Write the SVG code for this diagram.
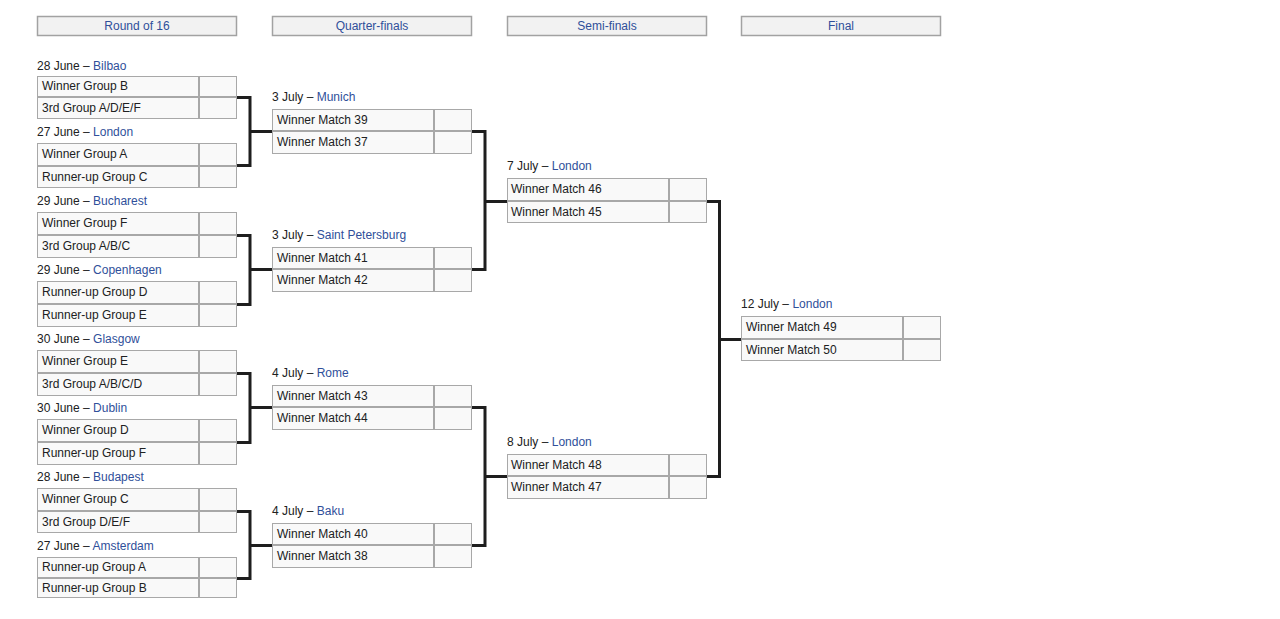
<svg xmlns="http://www.w3.org/2000/svg" width="1280" height="619" viewBox="0 0 1280 619">
<style>
text{font-family:"Liberation Sans",Arial,sans-serif;font-size:12px;fill:#202122}
.l{fill:#2f4f9a}
.hd rect{fill:#f2f2f2;stroke:#a2a2a2;stroke-width:1.5}
.hd text{fill:#2f4f9a;text-anchor:middle}
rect.c{fill:#f9f9f9;stroke:#a8a8a8;stroke-width:1}
.w path{fill:none;stroke:#1e1e1e;stroke-width:3}
</style>
<rect width="1280" height="619" fill="#ffffff"/>
<g id="headers" class="hd">
<g id="h-r16"><rect x="37.5" y="16.5" width="199" height="19"/><text x="137" y="29.5">Round of 16</text></g>
<g id="h-qf"><rect x="272.5" y="16.5" width="199" height="19"/><text x="372" y="29.5">Quarter-finals</text></g>
<g id="h-sf"><rect x="507.5" y="16.5" width="199" height="19"/><text x="607" y="29.5">Semi-finals</text></g>
<g id="h-f"><rect x="741.5" y="16.5" width="199" height="19"/><text x="841" y="29.5">Final</text></g>
</g>
<g id="connectors" class="w">
<path d="M237,97.5 H250 V165.5 H237 M250,131.5 H272"/>
<path d="M237,235.5 H250 V304.5 H237 M250,269.5 H272"/>
<path d="M237,373.5 H250 V442.5 H237 M250,407.5 H272"/>
<path d="M237,511.5 H250 V578.5 H237 M250,545.5 H272"/>
<path d="M472,131.5 H485 V269.5 H472 M485,201.5 H507"/>
<path d="M472,407.5 H485 V545.5 H472 M485,476.5 H507"/>
<path d="M707,201.5 H719.5 V476.5 H707 M719.5,339.5 H741"/>
</g>
<g id="m1">
<text x="37" y="69.5">28 June – <tspan class="l">Bilbao</tspan></text>
<rect class="c" x="37.5" y="76.5" width="161" height="20"/><rect class="c" x="199.5" y="76.5" width="37" height="20"/>
<rect class="c" x="37.5" y="97.5" width="161" height="21"/><rect class="c" x="199.5" y="97.5" width="37" height="21"/>
<text x="42" y="90">Winner Group B</text><text x="42" y="111.5">3rd Group A/D/E/F</text>
</g>
<g id="m2">
<text x="37" y="135.5">27 June – <tspan class="l">London</tspan></text>
<rect class="c" x="37.5" y="143.5" width="161" height="22"/><rect class="c" x="199.5" y="143.5" width="37" height="22"/>
<rect class="c" x="37.5" y="166.5" width="161" height="21"/><rect class="c" x="199.5" y="166.5" width="37" height="21"/>
<text x="42" y="158">Winner Group A</text><text x="42" y="180.5">Runner-up Group C</text>
</g>
<g id="m3">
<text x="37" y="204.5">29 June – <tspan class="l">Bucharest</tspan></text>
<rect class="c" x="37.5" y="212.5" width="161" height="22"/><rect class="c" x="199.5" y="212.5" width="37" height="22"/>
<rect class="c" x="37.5" y="235.5" width="161" height="22"/><rect class="c" x="199.5" y="235.5" width="37" height="22"/>
<text x="42" y="227">Winner Group F</text><text x="42" y="250">3rd Group A/B/C</text>
</g>
<g id="m4">
<text x="37" y="273.5">29 June – <tspan class="l">Copenhagen</tspan></text>
<rect class="c" x="37.5" y="281.5" width="161" height="22"/><rect class="c" x="199.5" y="281.5" width="37" height="22"/>
<rect class="c" x="37.5" y="304.5" width="161" height="22"/><rect class="c" x="199.5" y="304.5" width="37" height="22"/>
<text x="42" y="296">Runner-up Group D</text><text x="42" y="319">Runner-up Group E</text>
</g>
<g id="m5">
<text x="37" y="342.5">30 June – <tspan class="l">Glasgow</tspan></text>
<rect class="c" x="37.5" y="350.5" width="161" height="22"/><rect class="c" x="199.5" y="350.5" width="37" height="22"/>
<rect class="c" x="37.5" y="373.5" width="161" height="22"/><rect class="c" x="199.5" y="373.5" width="37" height="22"/>
<text x="42" y="365">Winner Group E</text><text x="42" y="388">3rd Group A/B/C/D</text>
</g>
<g id="m6">
<text x="37" y="411.5">30 June – <tspan class="l">Dublin</tspan></text>
<rect class="c" x="37.5" y="419.5" width="161" height="22"/><rect class="c" x="199.5" y="419.5" width="37" height="22"/>
<rect class="c" x="37.5" y="442.5" width="161" height="22"/><rect class="c" x="199.5" y="442.5" width="37" height="22"/>
<text x="42" y="434">Winner Group D</text><text x="42" y="457">Runner-up Group F</text>
</g>
<g id="m7">
<text x="37" y="480.5">28 June – <tspan class="l">Budapest</tspan></text>
<rect class="c" x="37.5" y="488.5" width="161" height="22"/><rect class="c" x="199.5" y="488.5" width="37" height="22"/>
<rect class="c" x="37.5" y="511.5" width="161" height="21"/><rect class="c" x="199.5" y="511.5" width="37" height="21"/>
<text x="42" y="503">Winner Group C</text><text x="42" y="525.5">3rd Group D/E/F</text>
</g>
<g id="m8">
<text x="37" y="549.5">27 June – <tspan class="l">Amsterdam</tspan></text>
<rect class="c" x="37.5" y="557.5" width="161" height="20"/><rect class="c" x="199.5" y="557.5" width="37" height="20"/>
<rect class="c" x="37.5" y="578.5" width="161" height="19"/><rect class="c" x="199.5" y="578.5" width="37" height="19"/>
<text x="42" y="571">Runner-up Group A</text><text x="42" y="591.5">Runner-up Group B</text>
</g>
<g id="q1">
<text x="272" y="100.5">3 July – <tspan class="l">Munich</tspan></text>
<rect class="c" x="272.5" y="109.5" width="161" height="21"/><rect class="c" x="434.5" y="109.5" width="37" height="21"/>
<rect class="c" x="272.5" y="131.5" width="161" height="22"/><rect class="c" x="434.5" y="131.5" width="37" height="22"/>
<text x="277" y="123.5">Winner Match 39</text><text x="277" y="146">Winner Match 37</text>
</g>
<g id="q2">
<text x="272" y="238.5">3 July – <tspan class="l">Saint Petersburg</tspan></text>
<rect class="c" x="272.5" y="247.5" width="161" height="21"/><rect class="c" x="434.5" y="247.5" width="37" height="21"/>
<rect class="c" x="272.5" y="269.5" width="161" height="22"/><rect class="c" x="434.5" y="269.5" width="37" height="22"/>
<text x="277" y="261.5">Winner Match 41</text><text x="277" y="284">Winner Match 42</text>
</g>
<g id="q3">
<text x="272" y="376.5">4 July – <tspan class="l">Rome</tspan></text>
<rect class="c" x="272.5" y="385.5" width="161" height="21"/><rect class="c" x="434.5" y="385.5" width="37" height="21"/>
<rect class="c" x="272.5" y="407.5" width="161" height="22"/><rect class="c" x="434.5" y="407.5" width="37" height="22"/>
<text x="277" y="399.5">Winner Match 43</text><text x="277" y="422">Winner Match 44</text>
</g>
<g id="q4">
<text x="272" y="514.5">4 July – <tspan class="l">Baku</tspan></text>
<rect class="c" x="272.5" y="523.5" width="161" height="21"/><rect class="c" x="434.5" y="523.5" width="37" height="21"/>
<rect class="c" x="272.5" y="545.5" width="161" height="22"/><rect class="c" x="434.5" y="545.5" width="37" height="22"/>
<text x="277" y="537.5">Winner Match 40</text><text x="277" y="560">Winner Match 38</text>
</g>
<g id="s1">
<text x="507" y="169.5">7 July – <tspan class="l">London</tspan></text>
<rect class="c" x="507.5" y="178.5" width="161" height="22"/><rect class="c" x="669.5" y="178.5" width="37" height="22"/>
<rect class="c" x="507.5" y="201.5" width="161" height="21"/><rect class="c" x="669.5" y="201.5" width="37" height="21"/>
<text x="511" y="193">Winner Match 46</text><text x="511" y="215.5">Winner Match 45</text>
</g>
<g id="s2">
<text x="507" y="445.5">8 July – <tspan class="l">London</tspan></text>
<rect class="c" x="507.5" y="454.5" width="161" height="21"/><rect class="c" x="669.5" y="454.5" width="37" height="21"/>
<rect class="c" x="507.5" y="476.5" width="161" height="22"/><rect class="c" x="669.5" y="476.5" width="37" height="22"/>
<text x="511" y="468.5">Winner Match 48</text><text x="511" y="491">Winner Match 47</text>
</g>
<g id="f1">
<text x="741" y="307.5">12 July – <tspan class="l">London</tspan></text>
<rect class="c" x="741.5" y="316.5" width="161" height="22"/><rect class="c" x="903.5" y="316.5" width="37" height="22"/>
<rect class="c" x="741.5" y="339.5" width="161" height="21"/><rect class="c" x="903.5" y="339.5" width="37" height="21"/>
<text x="746" y="330.5">Winner Match 49</text><text x="746" y="353.5">Winner Match 50</text>
</g>
</svg>
